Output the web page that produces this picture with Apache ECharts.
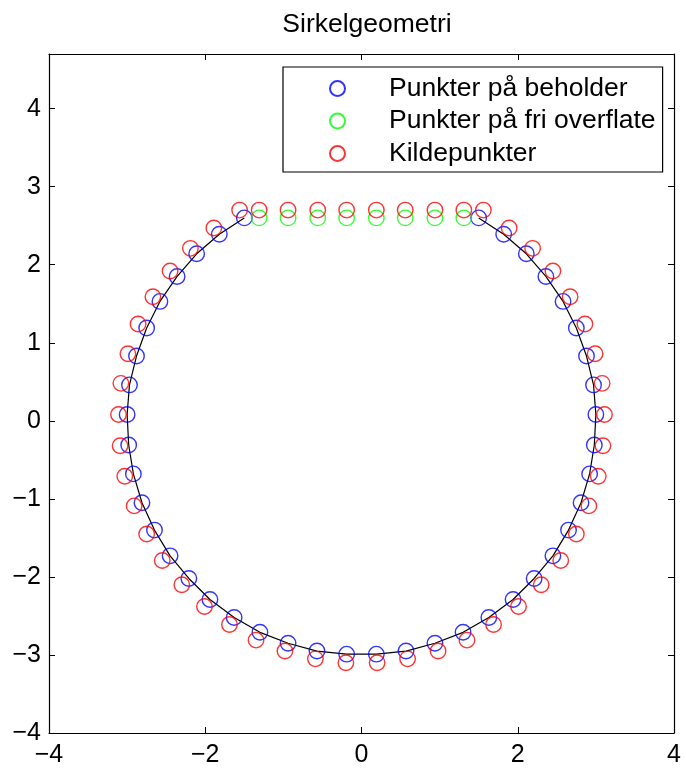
<!DOCTYPE html>
<html>
<head>
<meta charset="utf-8">
<script src="https://cdn.jsdelivr.net/npm/echarts@6/dist/echarts.min.js"></script>
<style>html,body{margin:0;padding:0;background:#fff;}#c{width:686px;height:772px;}</style>
</head>
<body>
<div id="c"></div>
<script>
// Data
const titleText = 'Sirkelgeometri';
const seriesNames = ['Punkter på beholder', 'Punkter på fri overflate', 'Kildepunkter'];
const xTicks = [-4, -2, 0, 2, 4];
const yTicks = [-4, -3, -2, -1, 0, 1, 2, 3, 4];

const blueX = [1.50, 1.82, 2.11, 2.36, 2.58, 2.75, 2.88, 2.97, 3.00, 2.98, 2.92, 2.81, 2.65, 2.45, 2.21, 1.94, 1.63, 1.30, 0.94, 0.57, 0.19,
               -0.19, -0.57, -0.94, -1.30, -1.63, -1.94, -2.21, -2.45, -2.65, -2.81, -2.92, -2.98, -3.00, -2.97, -2.88, -2.75, -2.58, -2.36, -2.11, -1.82, -1.50];
const blueY = [2.60, 2.39, 2.14, 1.85, 1.53, 1.19, 0.83, 0.46, 0.08, -0.31, -0.68, -1.05, -1.40, -1.73, -2.02, -2.29, -2.52, -2.71, -2.85, -2.95, -2.99,
               -2.99, -2.95, -2.85, -2.71, -2.52, -2.29, -2.02, -1.73, -1.40, -1.05, -0.68, -0.31, 0.08, 0.46, 0.83, 1.19, 1.53, 1.85, 2.14, 2.39, 2.60];

const greenX = [-1.31, -0.94, -0.56, -0.19, 0.19, 0.56, 0.94, 1.31];
const greenY = [2.60, 2.60, 2.60, 2.60, 2.60, 2.60, 2.60, 2.60];

const redX = [1.56, 1.89, 2.19, 2.45, 2.67, 2.86, 2.99, 3.08, 3.11, 3.09, 3.03, 2.91, 2.75, 2.55, 2.30, 2.01, 1.69, 1.35, 0.98, 0.59, 0.20,
              -0.20, -0.59, -0.98, -1.35, -1.69, -2.01, -2.30, -2.55, -2.75, -2.91, -3.03, -3.09, -3.11, -3.08, -2.99, -2.86, -2.67, -2.45, -2.19, -1.89, -1.56,
              -1.31, -0.94, -0.56, -0.19, 0.19, 0.56, 0.94, 1.31];
const redY = [2.70, 2.47, 2.21, 1.92, 1.59, 1.24, 0.86, 0.48, 0.08, -0.32, -0.71, -1.09, -1.45, -1.79, -2.10, -2.38, -2.61, -2.81, -2.95, -3.05, -3.10,
              -3.10, -3.05, -2.95, -2.81, -2.61, -2.38, -2.10, -1.79, -1.45, -1.09, -0.71, -0.32, 0.08, 0.48, 0.86, 1.24, 1.59, 1.92, 2.21, 2.47, 2.70,
              2.70, 2.70, 2.70, 2.70, 2.70, 2.70, 2.70, 2.70];

// container wall (circle arc) follows the wall points
const wallX = blueX;
const wallY = blueY;

const pairs = (xs, ys) => xs.map((x, i) => [x, ys[i]]);
const FONT = '"Liberation Sans", Arial, Helvetica, sans-serif';
const fmt = v => (Number.isInteger(v) ? String(v).replace('-', '\u2212') : '');

const axisCommon = {
  type: 'value',
  axisLine: { show: true, onZero: false, lineStyle: { color: '#000', width: 1.2 } },
  axisTick: { show: true, inside: true, length: 6, lineStyle: { color: '#000', width: 1 } },
  splitLine: { show: false },
  axisLabel: { show: true, color: '#000', fontSize: 25, fontFamily: FONT, formatter: fmt }
};

const chart = echarts.init(document.getElementById('c'), null, { renderer: 'canvas' });
const markerStyle = c => ({ color: 'rgba(255,255,255,0)', borderColor: c, borderWidth: 1.4 });

chart.setOption({
  animation: false,
  backgroundColor: '#fff',
  title: {
    text: titleText, left: 362, top: 6, textAlign: 'center',
    textStyle: { fontSize: 26.5, fontWeight: 'normal', color: '#000', fontFamily: FONT }
  },
  grid: { left: 49, right: 12, top: 54, bottom: 39, containLabel: false },
  xAxis: [
    Object.assign({}, axisCommon, { position: 'bottom', min: xTicks[0], max: xTicks[xTicks.length - 1], interval: 2,
      axisLabel: Object.assign({}, axisCommon.axisLabel, { margin: 10 }) }),
    Object.assign({}, axisCommon, { position: 'top', min: xTicks[0], max: xTicks[xTicks.length - 1], interval: 2,
      axisLabel: { show: false } })
  ],
  yAxis: [
    Object.assign({}, axisCommon, { position: 'left', min: yTicks[0], max: 4.7, interval: 1,
      axisLabel: Object.assign({}, axisCommon.axisLabel, { margin: 8 }) }),
    Object.assign({}, axisCommon, { position: 'right', min: yTicks[0], max: 4.7, interval: 1,
      axisLabel: { show: false } })
  ],
  legend: {
    data: seriesNames,
    orient: 'vertical',
    left: 283, top: 67,
    padding: [8, 7, 5, 46],
    itemGap: 5.5,
    itemWidth: 15, itemHeight: 15,
    backgroundColor: '#fff',
    borderColor: '#000', borderWidth: 1.2, borderRadius: 0,
    textStyle: { fontSize: 26.5, color: '#000', fontFamily: FONT, padding: [0, 0, 0, 39] },
    selectedMode: false
  },
  series: [
    {
      name: 'wall', type: 'line', data: pairs(wallX, wallY), showSymbol: false, symbol: 'none',
      lineStyle: { color: '#000', width: 1.2 }, z: 1, silent: true
    },
    {
      name: seriesNames[0], type: 'scatter', data: pairs(blueX, blueY), symbol: 'circle', symbolSize: 15.5,
      itemStyle: markerStyle('#0000ff'), z: 2, silent: true
    },
    {
      name: seriesNames[1], type: 'scatter', data: pairs(greenX, greenY), symbol: 'circle', symbolSize: 15.5,
      itemStyle: markerStyle('#00ff00'), z: 3, silent: true
    },
    {
      name: seriesNames[2], type: 'scatter', data: pairs(redX, redY), symbol: 'circle', symbolSize: 15.5,
      itemStyle: markerStyle('#ff0000'), z: 4, silent: true
    }
  ]
});
</script>
</body>
</html>
